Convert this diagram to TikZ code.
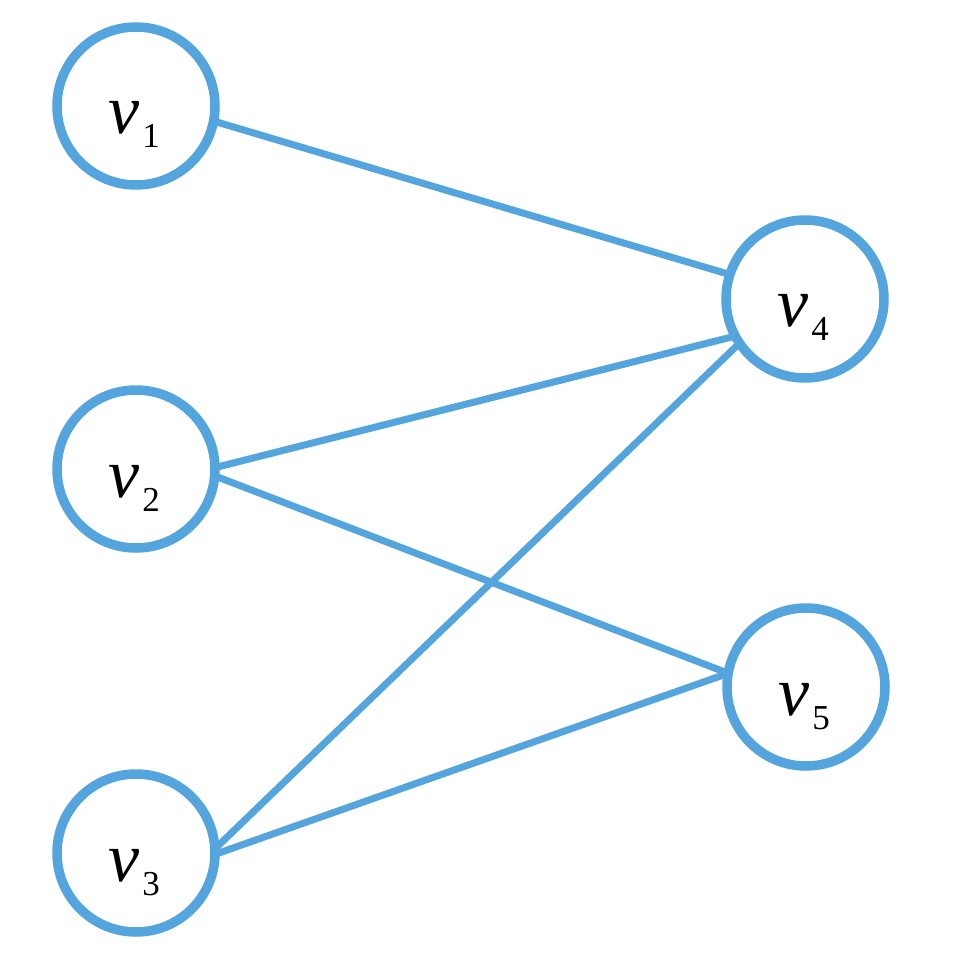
\documentclass[tikz,border=0pt]{standalone}
\usepackage{fontspec}
\setmainfont{Liberation Serif}
\usetikzlibrary{backgrounds}
\definecolor{edgeblue}{RGB}{84,164,221}
\tikzset{
  vert/.style={circle, draw=edgeblue, line width=9.5pt, fill=white,
    minimum size=158pt, inner sep=0pt, outer sep=0pt},
  lab/.style={anchor=base west, inner sep=0pt, text=black,
    font=\fontsize{70}{70}\selectfont\itshape},
  link/.style={draw=edgeblue, line width=7pt, line cap=round}
}
\newcommand{\vname}[1]{v\kern3pt\raisebox{-14pt}{\fontsize{35}{35}\selectfont\upshape #1}}
\begin{document}
\begin{tikzpicture}[x=1pt, y=-1pt]
  \useasboundingbox (0,0) rectangle (980,955);
  % vertices
  \node[vert] (v1) at (136,106) {};
  \node[vert] (v2) at (136,469) {};
  \node[vert] (v3) at (136,853) {};
  \node[vert] (v4) at (805,299) {};
  \node[vert] (v5) at (806,687) {};
  % labels
  \node[lab] (l1) at (108,134) {\vname{1}};
  \node[lab] (l2) at (108,497) {\vname{2}};
  \node[lab] (l3) at (108,881) {\vname{3}};
  \node[lab] (l4) at (777,326) {\vname{4}};
  \node[lab] (l5) at (778,715) {\vname{5}};
  % edges
  \begin{pgfonlayer}{background}
    \draw[link] (v1.-11) -- (v4.162);
    \draw[link] (v2.1) -- (v4.208);
    \draw[link] (v2.-5) -- (v5.170);
    \draw[link] (v3.3) -- (v4.214);
    \draw[link] (v3.-1) -- (v5.170);
  \end{pgfonlayer}
\end{tikzpicture}
\end{document}
